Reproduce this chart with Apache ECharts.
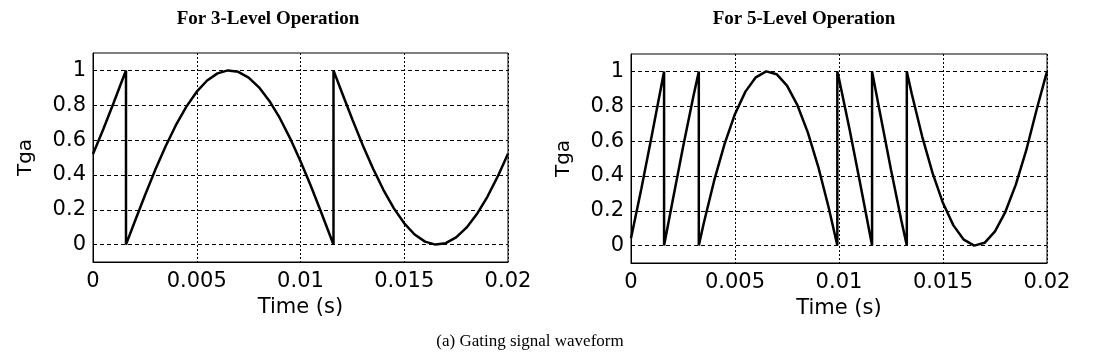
<!DOCTYPE html>
<html>
<head>
<meta charset="utf-8">
<script src="https://cdn.jsdelivr.net/npm/echarts@6/dist/echarts.min.js"></script>
<style>
html,body{margin:0;padding:0;background:#fff;}
#chart{width:1104px;height:355px;}
</style>
</head>
<body>
<div id="chart"></div>
<script>
// ---- data ----
const titles = ['For 3-Level Operation', 'For 5-Level Operation'];
const caption = '(a) Gating signal waveform';
const xName = 'Time (s)';
const yName = 'Tga';
const yTicks = [0, 0.2, 0.4, 0.6, 0.8, 1];

// 3-level operation
const time3 = [0, 0.0005, 0.001, 0.0015, 0.00159, 0.00159, 0.002, 0.0025, 0.003, 0.0035, 0.004, 0.0045, 0.005, 0.0055, 0.006, 0.0065, 0.007, 0.0075, 0.008, 0.0085, 0.009, 0.0095, 0.01, 0.0105, 0.011, 0.0115, 0.01159, 0.01159, 0.012, 0.0125, 0.013, 0.0135, 0.014, 0.0145, 0.015, 0.0155, 0.016, 0.0165, 0.017, 0.0175, 0.018, 0.0185, 0.019, 0.0195, 0.02];
const tga3 = [0.52, 0.664, 0.816, 0.972, 1.0, 0, 0.128, 0.282, 0.429, 0.565, 0.687, 0.792, 0.878, 0.942, 0.983, 1.0, 0.992, 0.959, 0.903, 0.825, 0.727, 0.610, 0.479, 0.336, 0.184, 0.028, 0, 1.0, 0.872, 0.718, 0.571, 0.435, 0.313, 0.208, 0.122, 0.058, 0.017, 0.0, 0.008, 0.041, 0.097, 0.175, 0.273, 0.390, 0.521];

// 5-level operation
const time5 = [0, 0.0005, 0.001, 0.0015, 0.00159, 0.00159, 0.002, 0.0025, 0.003, 0.00326, 0.00326, 0.0035, 0.004, 0.0045, 0.005, 0.0055, 0.006, 0.0065, 0.007, 0.0075, 0.008, 0.0085, 0.009, 0.0095, 0.00992, 0.00992, 0.01, 0.0105, 0.011, 0.0115, 0.01159, 0.01159, 0.012, 0.0125, 0.013, 0.01326, 0.01326, 0.0135, 0.014, 0.0145, 0.015, 0.0155, 0.016, 0.0165, 0.017, 0.0175, 0.018, 0.0185, 0.019, 0.0195, 0.02];
const tga5 = [0.042, 0.328, 0.632, 0.944, 1.0, 0, 0.256, 0.564, 0.858, 1.0, 0, 0.130, 0.374, 0.584, 0.756, 0.884, 0.966, 1.0, 0.984, 0.918, 0.806, 0.650, 0.454, 0.220, 0, 1.0, 0.958, 0.672, 0.368, 0.056, 0, 1.0, 0.744, 0.436, 0.142, 0, 1.0, 0.870, 0.626, 0.416, 0.244, 0.116, 0.034, 0.0, 0.016, 0.082, 0.194, 0.350, 0.546, 0.780, 1.0];

const pairs = (xs, ys) => xs.map((x, i) => [x, ys[i]]);

const sans = 'DejaVu Sans';
const serif = 'Liberation Serif';

function xAxisFor(idx) {
  return {
    type: 'value', gridIndex: idx, min: 0, max: 0.02, interval: 0.005,
    name: xName, nameLocation: 'middle', nameGap: 26,
    nameTextStyle: {fontFamily: sans, fontSize: 21, color: '#000'},
    axisLine: {show: true, onZero: false, lineStyle: {color: '#000', width: 1}},
    axisTick: {show: false},
    axisLabel: {fontFamily: sans, fontSize: 21, color: '#000', margin: 9},
    splitLine: {show: true, lineStyle: {color: '#000', width: 1, type: [2, 2]}}
  };
}
function yAxisFor(idx) {
  return {
    type: 'value', gridIndex: idx, min: -0.1, max: 1.1,
    name: yName, nameLocation: 'middle', nameGap: 57,
    nameTextStyle: {fontFamily: sans, fontSize: 20, color: '#000'},
    axisLine: {show: true, onZero: false, lineStyle: {color: '#000', width: 1}},
    axisTick: {show: false, customValues: yTicks},
    axisLabel: {fontFamily: sans, fontSize: 21, color: '#000', margin: 7, customValues: yTicks},
    splitLine: {show: true, lineStyle: {color: '#000', width: 1, type: [4, 3]}}
  };
}

const chart = echarts.init(document.getElementById('chart'), null, {renderer: 'canvas'});
chart.setOption({
  animation: false,
  backgroundColor: '#fff',
  title: [
    {text: titles[0], left: 263, top: 5, textAlign: 'center',
     textStyle: {fontFamily: serif, fontWeight: 'bold', fontSize: 19, color: '#000'}},
    {text: titles[1], left: 799, top: 5, textAlign: 'center',
     textStyle: {fontFamily: serif, fontWeight: 'bold', fontSize: 19, color: '#000'}},
    {text: caption, left: 525, top: 328, textAlign: 'center',
     textStyle: {fontFamily: serif, fontWeight: 'normal', fontSize: 17, color: '#000'}}
  ],
  grid: [
    {left: 93, top: 53, width: 415, height: 209, show: true, borderColor: '#000', borderWidth: 1, backgroundColor: '#fff'},
    {left: 631, top: 54, width: 416, height: 209, show: true, borderColor: '#000', borderWidth: 1, backgroundColor: '#fff'}
  ],
  xAxis: [xAxisFor(0), xAxisFor(1)],
  yAxis: [yAxisFor(0), yAxisFor(1)],
  series: [
    {type: 'line', xAxisIndex: 0, yAxisIndex: 0, data: pairs(time3, tga3),
     showSymbol: false, symbol: 'none', lineStyle: {color: '#000', width: 2.5}},
    {type: 'line', xAxisIndex: 1, yAxisIndex: 1, data: pairs(time5, tga5),
     showSymbol: false, symbol: 'none', lineStyle: {color: '#000', width: 2.5}}
  ]
});
</script>
</body>
</html>
